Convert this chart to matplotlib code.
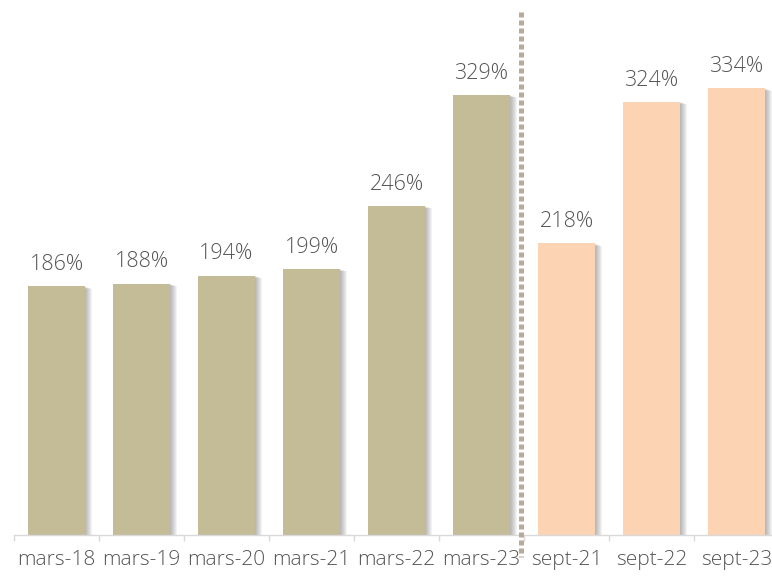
import matplotlib
matplotlib.use("Agg")
import matplotlib.pyplot as plt
import matplotlib.patheffects as pe
from matplotlib.lines import Line2D
import numpy as np

categories = ["mars-18", "mars-19", "mars-20", "mars-21", "mars-22", "mars-23",
              "sept-21", "sept-22", "sept-23"]
values = [186, 188, 194, 199, 246, 329, 218, 324, 334]
groups = ["mars", "mars", "mars", "mars", "mars", "mars", "sept", "sept", "sept"]
group_colors = {"mars": "#c4bb97", "sept": "#fcd4b4"}

W, H = 772, 576
fig = plt.figure(figsize=(W / 100, H / 100), dpi=100)
left_px, right_px, base_px = 14, 779, 535
ax = fig.add_axes([left_px / W, (H - base_px) / H, (right_px - left_px) / W, base_px / H])

FONT = "Open Sans"
TXT = "#555555"

x = np.arange(len(categories))
colors = [group_colors[g] for g in groups]
effects = [pe.SimplePatchShadow(offset=(k * 0.75, -k * 0.25), shadow_rgbFace="#555555", alpha=0.07)
           for k in range(1, 8)] + [pe.Normal()]
bars = ax.bar(x, values, width=0.67, color=colors, zorder=2)
for b in bars:
    b.set_path_effects(effects)

for xi, v in zip(x, values):
    ax.annotate(f"{v}%", (xi, v), xytext=(0, 8), textcoords="offset points",
                ha="center", va="bottom", fontsize=15.5, color=TXT,
                family=FONT, fontweight="light")

ax.set_xlim(-0.5, len(categories) - 0.5)
ax.set_ylim(0, 400)
ax.set_xticks(x)
ax.set_xticklabels(categories, family=FONT, fontweight="light", fontsize=15, color=TXT)
ax.tick_params(axis="x", which="major", length=0, pad=11)
ax.set_xticks(np.arange(-0.5, len(categories), 1.0), minor=True)
ax.tick_params(axis="x", which="minor", length=4, color="#d9d9d9", width=1)
ax.set_yticks([])
for s in ["top", "right", "left"]:
    ax.spines[s].set_visible(False)
ax.spines["bottom"].set_color("#d9d9d9")
ax.spines["bottom"].set_linewidth(1)

sep_x = ax.transData.transform((5.46, 0))[0]
line = Line2D([sep_x, sep_x], [H - 12, H - 557], transform=None,
              color="#b8a99a", linewidth=3.6, linestyle=(0, (1.0, 0.6)), zorder=5)
fig.add_artist(line)

fig.savefig("out.png", dpi=100)
